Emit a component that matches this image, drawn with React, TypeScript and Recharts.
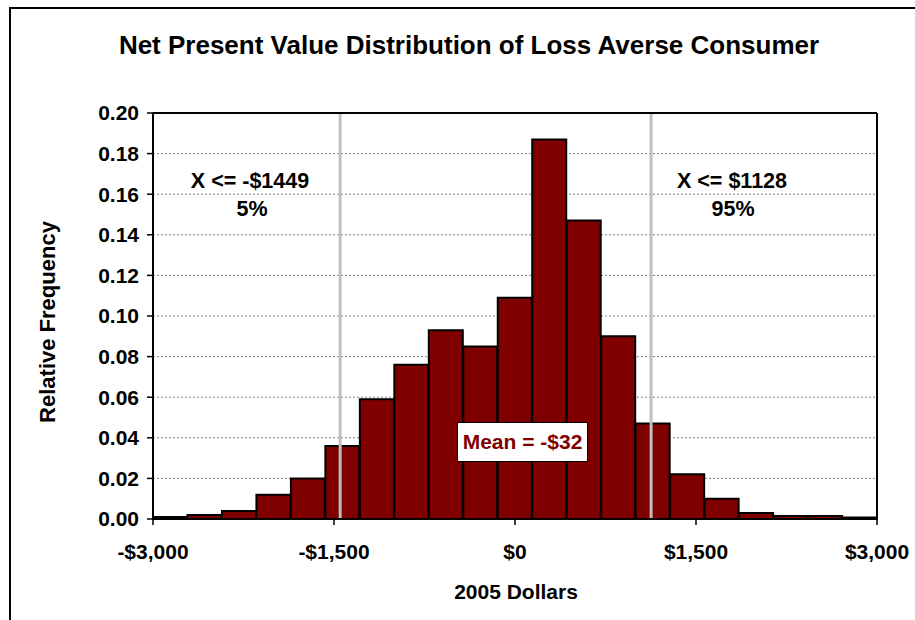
import React from 'react';
import {
  BarChart,
  Bar,
  XAxis,
  YAxis,
  CartesianGrid,
  ReferenceLine,
} from 'recharts';

// bin centres (2005 dollars), 21 bins from -$3,000 to $3,000
const binMids = [
  -2857, -2571, -2286, -2000, -1714, -1429, -1143, -857, -571, -286, 0,
  286, 571, 857, 1143, 1429, 1714, 2000, 2286, 2571, 2857,
];

// relative frequency of each bin
const relFreq = [
  0.001, 0.002, 0.004, 0.012, 0.020, 0.036, 0.059, 0.076, 0.093, 0.085, 0.109,
  0.187, 0.147, 0.090, 0.047, 0.022, 0.010, 0.003, 0.0015, 0.0015, 0.0008,
];

const xTicks = [-3000, -1500, 0, 1500, 3000];
const yTicks = [0, 0.02, 0.04, 0.06, 0.08, 0.1, 0.12, 0.14, 0.16, 0.18, 0.2];

const pct5 = -1449;
const pct95 = 1128;
const meanValue = -32;

const data = binMids.map((mid, i) => ({ mid, freq: relFreq[i] }));

const FONT = 'Arial, "Liberation Sans", sans-serif';

const fmtDollar = (v: number) => {
  const s = '$' + Math.abs(v).toLocaleString('en-US');
  return v < 0 ? '-' + s : s;
};

const tickStyle = { fill: '#000', fontSize: 21, fontWeight: 700, fontFamily: FONT };

function Overlay({ x, y, size, children, color = '#000', rotate = false }: any) {
  return (
    <div
      style={{
        position: 'absolute',
        left: x,
        top: y,
        transform: `translate(-50%, -50%)${rotate ? ' rotate(-90deg)' : ''}`,
        whiteSpace: 'nowrap',
        fontFamily: FONT,
        fontWeight: 700,
        fontSize: size,
        lineHeight: 1,
        color,
      }}
    >
      {children}
    </div>
  );
}

export default function App() {
  return (
    <div
      style={{
        position: 'absolute',
        left: 0,
        top: 0,
        width: 915,
        height: 620,
        background: '#fff',
        overflow: 'hidden',
      }}
    >
      {/* outer chart frame, only left and top edges are in view */}
      <div
        style={{
          position: 'absolute',
          left: 9,
          top: 7,
          width: 950,
          height: 650,
          borderLeft: '2px solid #000',
          borderTop: '2px solid #000',
        }}
      />

      <BarChart
        width={915}
        height={620}
        data={data}
        margin={{ top: 113, right: 38, bottom: 61, left: 83 }}
        barCategoryGap={0}
        barGap={0}
        style={{ position: 'absolute', left: 0, top: 0 }}
      >
        <CartesianGrid vertical={false} stroke="#808080" strokeDasharray="2 2" />
        <XAxis dataKey="mid" type="category" hide height={0} />
        <XAxis
          xAxisId="num"
          dataKey="mid"
          type="number"
          domain={[-3000, 3000]}
          allowDataOverflow
          ticks={xTicks}
          tickFormatter={fmtDollar}
          height={40}
          tickSize={6}
          tickMargin={19}
          axisLine={{ stroke: '#000', strokeWidth: 2 }}
          tickLine={{ stroke: '#000', strokeWidth: 1.5 }}
          tick={tickStyle}
        />
        <YAxis
          domain={[0, 0.2]}
          ticks={yTicks}
          tickFormatter={(v: number) => v.toFixed(2)}
          width={70}
          tickSize={6}
          tickMargin={8}
          axisLine={{ stroke: '#000', strokeWidth: 2 }}
          tickLine={{ stroke: '#000', strokeWidth: 1.5 }}
          tick={tickStyle}
        />
        <Bar
          dataKey="freq"
          fill="#800000"
          stroke="#000"
          strokeWidth={2}
          isAnimationActive={false}
        />
        <ReferenceLine xAxisId="num" x={pct5} stroke="#c0c0c0" strokeWidth={3} />
        <ReferenceLine xAxisId="num" x={pct95} stroke="#c0c0c0" strokeWidth={3} />
        <ReferenceLine y={0.2} stroke="#000" strokeWidth={2} />
        <ReferenceLine xAxisId="num" x={3000} stroke="#000" strokeWidth={2} />
      </BarChart>

      <Overlay x={469} y={45} size={26}>
        Net Present Value Distribution of Loss Averse Consumer
      </Overlay>
      <Overlay x={48} y={322} size={22} rotate>
        Relative Frequency
      </Overlay>
      <Overlay x={516} y={591} size={21}>
        2005 Dollars
      </Overlay>

      <Overlay x={250} y={182} size={21.5}>
        {`X <= ${fmtDollar(pct5).replace(',', '')}`}
      </Overlay>
      <Overlay x={252} y={210} size={21.5}>
        5%
      </Overlay>
      <Overlay x={732} y={182} size={21.5}>
        {`X <= ${fmtDollar(pct95).replace(',', '')}`}
      </Overlay>
      <Overlay x={733} y={210} size={21.5}>
        95%
      </Overlay>

      <div
        style={{
          position: 'absolute',
          left: 457,
          top: 422,
          width: 131,
          height: 40,
          boxSizing: 'border-box',
          border: '1.5px solid #000',
          background: '#fff',
          display: 'flex',
          alignItems: 'center',
          justifyContent: 'center',
          fontFamily: FONT,
          fontWeight: 700,
          fontSize: 21,
          color: '#800000',
          whiteSpace: 'nowrap',
        }}
      >
        {`Mean = ${fmtDollar(meanValue)}`}
      </div>
    </div>
  );
}
